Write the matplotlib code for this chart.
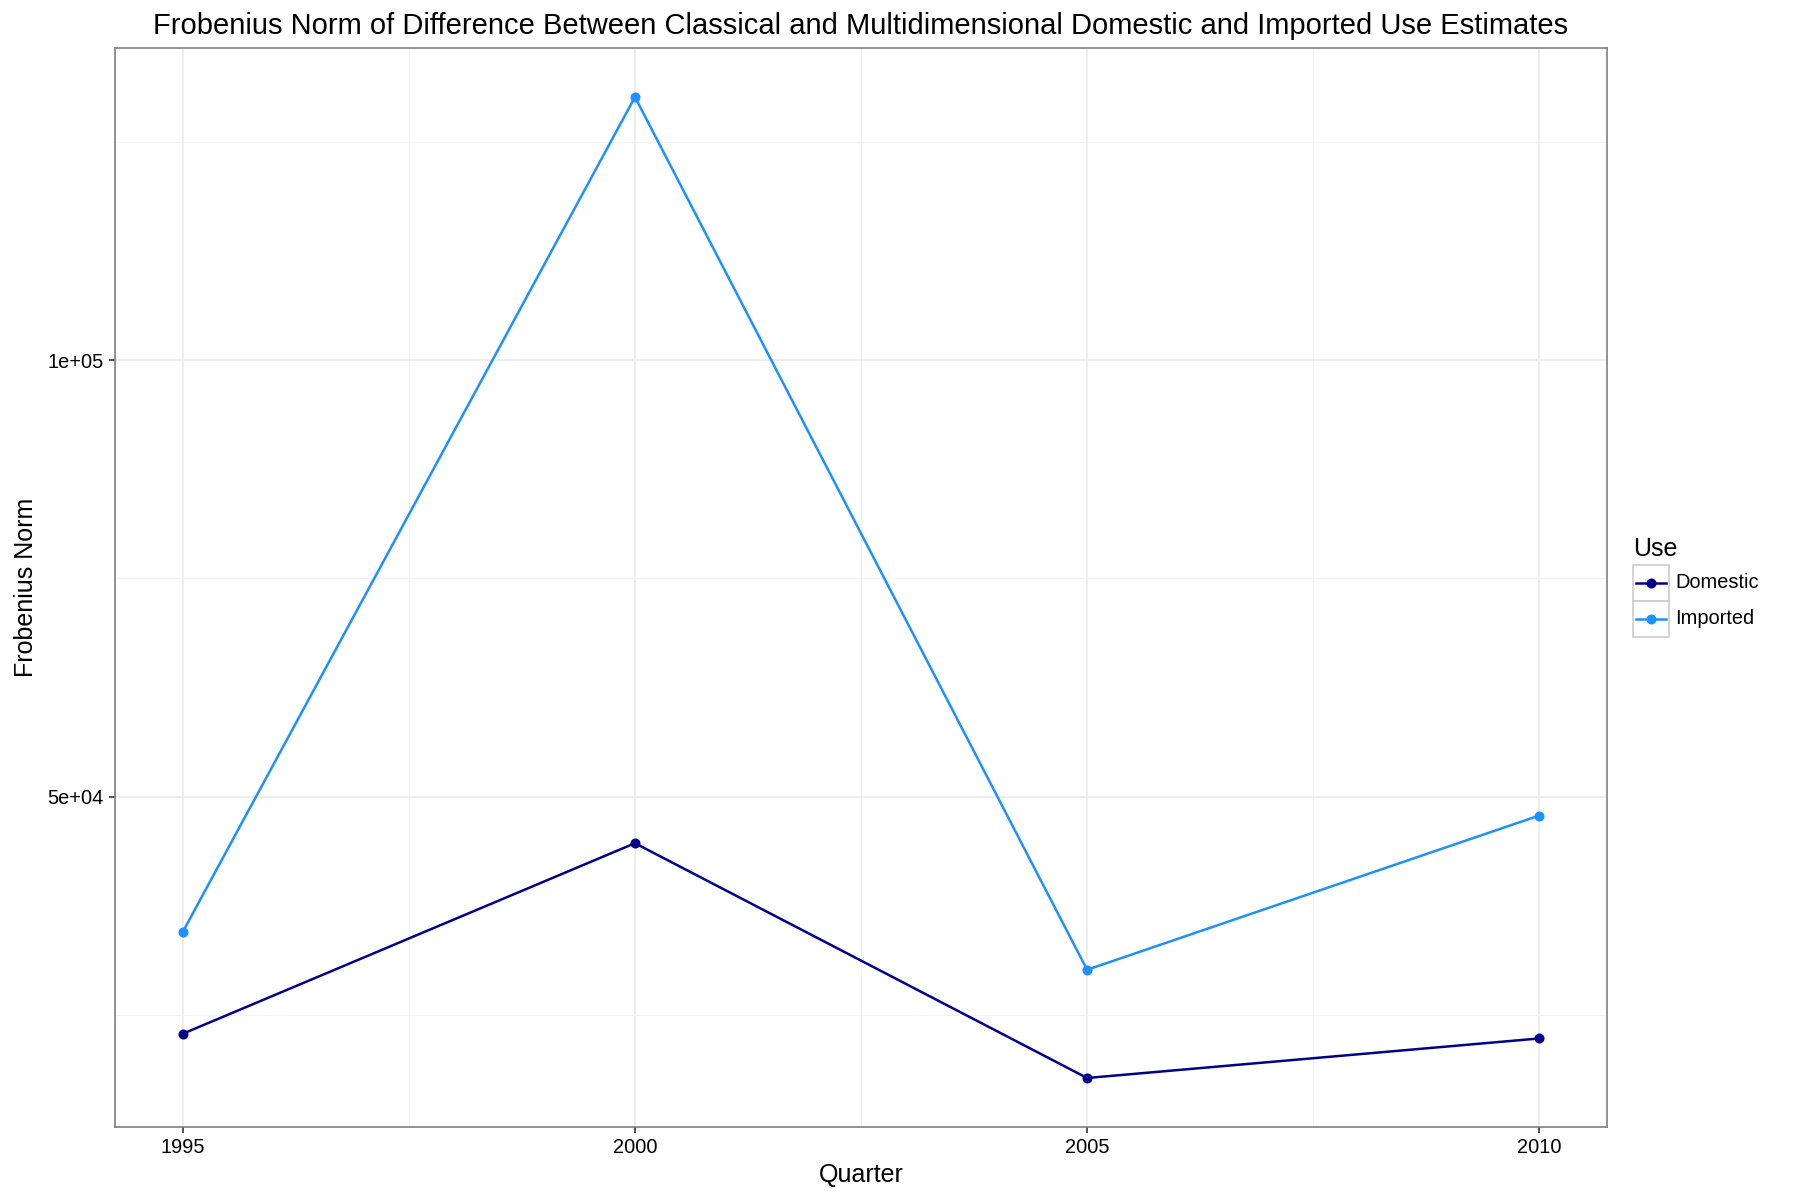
import matplotlib.pyplot as plt
from matplotlib.patches import Rectangle
from matplotlib.ticker import FixedLocator

plt.rcParams['font.family'] = ['Liberation Sans', 'DejaVu Sans']

# --- data ---
years = [1995, 2000, 2005, 2010]
domestic = [22830, 44660, 17760, 22290]
imported = [34510, 130150, 30160, 47830]
series_names = ['Domestic', 'Imported']
series_colors = ['#00008B', '#1E90FF']
y_ticks = [50000, 100000]
y_tick_labels = ['5e+04', '1e+05']
y_minor = [25000, 75000, 125000]
x_minor = [1997.5, 2002.5, 2007.5]

fig = plt.figure(figsize=(18, 12), dpi=100)
ax = fig.add_axes([0.0639, 0.0608, 0.8289, 0.8992])

for name, vals, col in zip(series_names, [domestic, imported], series_colors):
    ax.plot(years, vals, color=col, linewidth=1.8, marker='o', markersize=6.2,
            label=name, zorder=3)

# ggplot-like expansion of 5 %
lo = min(domestic + imported)
hi = max(domestic + imported)
pad = 0.05 * (hi - lo)
ax.set_ylim(lo - pad, hi + pad)
ax.set_xlim(years[0] - 0.05 * (years[-1] - years[0]),
            years[-1] + 0.05 * (years[-1] - years[0]))

ax.set_xticks(years)
ax.set_xticklabels([str(y) for y in years])
ax.yaxis.set_major_locator(FixedLocator(y_ticks))
ax.set_yticklabels(y_tick_labels)
ax.xaxis.set_minor_locator(FixedLocator(x_minor))
ax.yaxis.set_minor_locator(FixedLocator(y_minor))

ax.grid(True, which='major', color='#EBEBEB', linewidth=1.2, zorder=0)
ax.grid(True, which='minor', color='#F3F3F3', linewidth=0.8, zorder=0)
ax.set_axisbelow(True)
ax.tick_params(which='major', direction='out', length=4, width=1.2,
               color='#333333', labelsize=14.4, labelcolor='black', pad=4)
ax.tick_params(which='minor', length=0)
for s in ax.spines.values():
    s.set_color('#7F7F7F')
    s.set_linewidth(1.2)

ax.set_title('Frobenius Norm of Difference Between Classical and Multidimensional '
             'Domestic and Imported Use Estimates', fontsize=21, pad=10)
ax.set_xlabel('Quarter', fontsize=18, labelpad=4)
ax.set_ylabel('Frobenius Norm', fontsize=18, labelpad=7)

# --- legend drawn ggplot style, with key boxes ---
W, H = 1800.0, 1200.0
fig.text(1633 / W, 1 - 556 / H, 'Use', fontsize=18, ha='left', va='baseline')
key_w, key_h = 36, 36
for i, (name, col) in enumerate(zip(series_names, series_colors)):
    x0 = 1633
    y0 = 565 + i * key_h
    fig.patches.append(Rectangle((x0 / W, 1 - (y0 + key_h) / H), key_w / W, key_h / H,
                                 transform=fig.transFigure, facecolor='white',
                                 edgecolor='#CCCCCC', linewidth=1.2))
    yc = 1 - (y0 + key_h / 2) / H
    fig.lines.append(plt.Line2D([(x0 + 3) / W, (x0 + key_w - 3) / W], [yc, yc],
                                transform=fig.transFigure, color=col, linewidth=1.8))
    fig.lines.append(plt.Line2D([(x0 + key_w / 2) / W], [yc], transform=fig.transFigure,
                                color=col, marker='o', markersize=6.2))
    fig.text((x0 + key_w + 6) / W, yc, name, fontsize=14.4, ha='left', va='center')

fig.savefig('out.png', dpi=100)
